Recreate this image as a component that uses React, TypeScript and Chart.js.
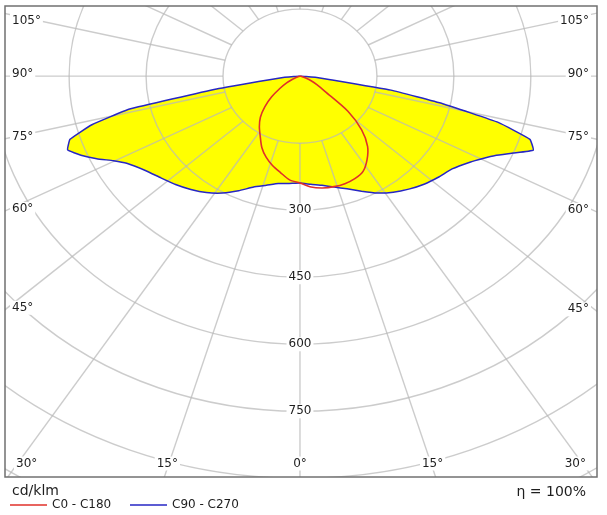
import React, { useEffect, useRef } from 'react';
import { Chart, registerables } from 'chart.js';

Chart.register(...registerables);

// ---- data (cd/klm) ----
const GAMMA_C90 = [0, 5, 10, 15, 20, 25, 30, 35, 40, 45, 50, 55, 60, 62.5, 65, 67.5, 70, 72.5, 75, 77.5, 80, 82.5, 85, 87.5, 90];
const C90 = [239, 243, 248, 257, 268, 284, 302, 317, 330, 342, 352, 362, 384, 400, 420, 450, 484, 470, 400, 285, 180, 60, 30, 12, 0];
const C270 = [239, 241, 244, 253, 264, 283, 302, 318, 331, 343, 354, 368, 390, 410, 437, 462, 482, 470, 420, 340, 165, 60, 30, 12, 0];

const GAMMA_C0 = [0, 5, 10, 15, 20, 25, 30, 35, 40, 45, 50, 55, 60, 65, 70, 75, 80, 85, 90];
const C0 = [239, 249, 254, 256, 256, 253, 246, 228, 205, 170, 122, 60, 38, 24, 12, 5, 2, 0, 0];
const C180 = [239, 233, 219, 207, 193, 176, 155, 138, 120, 97, 72, 48, 30, 16, 7, 3, 1, 0, 0];

const GRID_RADII = [150, 300, 450, 600, 750, 900, 1050];
const RADIAL_TICKS = [300, 450, 600, 750];
const ANGLE_LABELS = [0, 15, 30, 45, 60, 75, 90, 105];
const ANGLE_STEP = 15;

const LEGEND_NAMES = ['C0 - C180', 'C90 - C270'];
const UNIT_LABEL = 'cd/klm';
const EFFICIENCY_LABEL = '\u03B7 = 100%';

// ---- styling ----
const FONT = '"DejaVu Sans", Verdana, sans-serif';
const BLUE = '#2626c4';
const RED = '#e0302a';
const YELLOW = '#ffff00';
const GRID = 'rgba(185,185,185,0.72)';
const TEXT = '#1e1e1e';
const K = 1.1; // angular stretch of the radial grid lines

const X_MIN = -575, X_MAX = 579, Y_MIN = -897, Y_MAX = 157;

const rad = (d: number) => (d * Math.PI) / 180;

function halfCurve(gammas: number[], vals: number[], side: number) {
  return gammas.map((g, i) => ({ x: side * vals[i] * Math.sin(rad(g)), y: -vals[i] * Math.cos(rad(g)) }));
}

function closedCurve(g: number[], right: number[], left: number[]) {
  const r = halfCurve(g, right, 1).reverse();
  const l = halfCurve(g, left, -1).slice(1);
  return r.concat(l);
}

const polarPlugin = {
  id: 'polarGrid',
  beforeDatasetsDraw(chart: any) {
    const { ctx, chartArea: a, scales } = chart;
    const x = scales.x, y = scales.y;
    const cx = x.getPixelForValue(0), cy = y.getPixelForValue(0);
    ctx.save();
    ctx.beginPath();
    ctx.rect(a.left, a.top, a.right - a.left, a.bottom - a.top);
    ctx.clip();
    ctx.strokeStyle = GRID;
    ctx.lineWidth = 1.4;
    for (const r of GRID_RADII) {
      const rx = x.getPixelForValue(r) - cx;
      const ry = y.getPixelForValue(-r) - cy;
      ctx.beginPath();
      ctx.ellipse(cx, cy, rx, ry, 0, 0, Math.PI * 2);
      ctx.stroke();
    }
    const inner = GRID_RADII[0];
    for (let g = 0; g < 360; g += ANGLE_STEP) {
      const s = Math.sin(rad(g)), c = Math.cos(rad(g));
      const dx = K * s, dy = -c;
      const len = Math.sqrt(dx * dx + dy * dy);
      const t0 = inner / len;
      const t1 = 4000;
      ctx.beginPath();
      ctx.moveTo(x.getPixelForValue(t0 * dx), y.getPixelForValue(t0 * dy));
      ctx.lineTo(x.getPixelForValue(t1 * dx), y.getPixelForValue(t1 * dy));
      ctx.stroke();
    }
    ctx.restore();
  },
  afterDraw(chart: any) {
    const { ctx, chartArea: a, scales } = chart;
    const x = scales.x, y = scales.y;
    const cx = x.getPixelForValue(0), cy = y.getPixelForValue(0);
    ctx.save();

    const boxText = (txt: string, px: number, py: number, align: CanvasTextAlign) => {
      ctx.font = '12px ' + FONT;
      const w = ctx.measureText(txt).width;
      let left = px;
      if (align === 'center') left = px - w / 2;
      else if (align === 'right') left = px - w;
      ctx.fillStyle = '#ffffff';
      ctx.fillRect(left - 2, py - 7, w + 4, 14);
      ctx.fillStyle = TEXT;
      ctx.textAlign = align;
      ctx.textBaseline = 'middle';
      ctx.fillText(txt, px, py);
    };

    // radial value labels
    for (const v of RADIAL_TICKS) {
      boxText(String(v), cx, y.getPixelForValue(-v), 'center');
    }

    // angle labels
    for (const g of ANGLE_LABELS) {
      const sides = g === 0 ? [1] : [-1, 1];
      for (const sd of sides) {
        const s = Math.sin(rad(g)), c = Math.cos(rad(g));
        const dxp = x.getPixelForValue(sd * K * s * 1000) - cx;
        const dyp = y.getPixelForValue(-c * 1000) - cy;
        const tx = dxp > 0 ? (a.right - cx) / dxp : dxp < 0 ? (a.left - cx) / dxp : Infinity;
        const ty = dyp > 0 ? (a.bottom - cy) / dyp : dyp < 0 ? (a.top - cy) / dyp : Infinity;
        const txt = g + '\u00B0';
        ctx.font = '12px ' + FONT;
        const w = ctx.measureText(txt).width;
        if (ty <= tx) {
          const hx = cx + dxp * ty;
          let px = hx - Math.sign(dxp) * 3;
          px = Math.max(a.left + 11 + w / 2, Math.min(a.right - 11 - w / 2, px));
          boxText(txt, px, a.bottom - 13.5, 'center');
        } else {
          const hy = cy + dyp * tx;
          const py = Math.max(a.top + 14.5, hy - 2);
          if (sd < 0) boxText(txt, a.left + 7, py, 'left');
          else boxText(txt, a.right - 8, py, 'right');
        }
      }
    }

    // frame
    ctx.strokeStyle = '#707070';
    ctx.lineWidth = 1.5;
    ctx.strokeRect(a.left, a.top, a.right - a.left, a.bottom - a.top);

    // legend & notes
    ctx.fillStyle = TEXT;
    ctx.textBaseline = 'middle';
    ctx.textAlign = 'left';
    ctx.font = '14px ' + FONT;
    ctx.fillText(UNIT_LABEL, 12, 491);
    ctx.textAlign = 'right';
    ctx.fillText(EFFICIENCY_LABEL, 586, 492);

    const colors = [RED, BLUE];
    const starts = [10, 130];
    ctx.font = '12px ' + FONT;
    ctx.textAlign = 'left';
    LEGEND_NAMES.forEach((n, i) => {
      ctx.strokeStyle = colors[i];
      ctx.lineWidth = 1.5;
      ctx.beginPath();
      ctx.moveTo(starts[i], 505);
      ctx.lineTo(starts[i] + 37, 505);
      ctx.stroke();
      ctx.fillStyle = TEXT;
      ctx.fillText(n, starts[i] + 42, 505);
    });
    ctx.restore();
  },
};

export default function App() {
  const ref = useRef<HTMLCanvasElement | null>(null);
  useEffect(() => {
    if (!ref.current) return;
    const chart = new Chart(ref.current, {
      type: 'scatter',
      data: {
        datasets: [
          {
            label: LEGEND_NAMES[0],
            data: closedCurve(GAMMA_C0, C0, C180),
            showLine: true,
            borderColor: RED,
            borderWidth: 1.6,
            pointRadius: 0,
            tension: 0.25,
            fill: false,
            order: 0,
          },
          {
            label: LEGEND_NAMES[1],
            data: closedCurve(GAMMA_C90, C90, C270),
            showLine: true,
            borderColor: BLUE,
            backgroundColor: YELLOW,
            borderWidth: 1.5,
            pointRadius: 0,
            tension: 0.1,
            borderJoinStyle: 'round',
            fill: 'shape',
            order: 1,
          },
        ],
      } as any,
      options: {
        animation: false,
        responsive: true,
        maintainAspectRatio: false,
        events: [],
        layout: { padding: { left: 5, top: 6, right: 10, bottom: 38 } },
        scales: {
          x: { type: 'linear', min: X_MIN, max: X_MAX, bounds: 'data', display: false },
          y: { type: 'linear', min: Y_MIN, max: Y_MAX, bounds: 'data', display: false },
        },
        plugins: {
          legend: { display: false },
          tooltip: { enabled: false },
          filler: { drawTime: 'beforeDatasetsDraw' },
        },
      } as any,
      plugins: [polarPlugin],
    });
    return () => chart.destroy();
  }, []);
  return (
    <div style={{ position: 'fixed', left: 0, top: 0, width: 607, height: 515, background: '#fff' }}>
      <canvas ref={ref} />
    </div>
  );
}
